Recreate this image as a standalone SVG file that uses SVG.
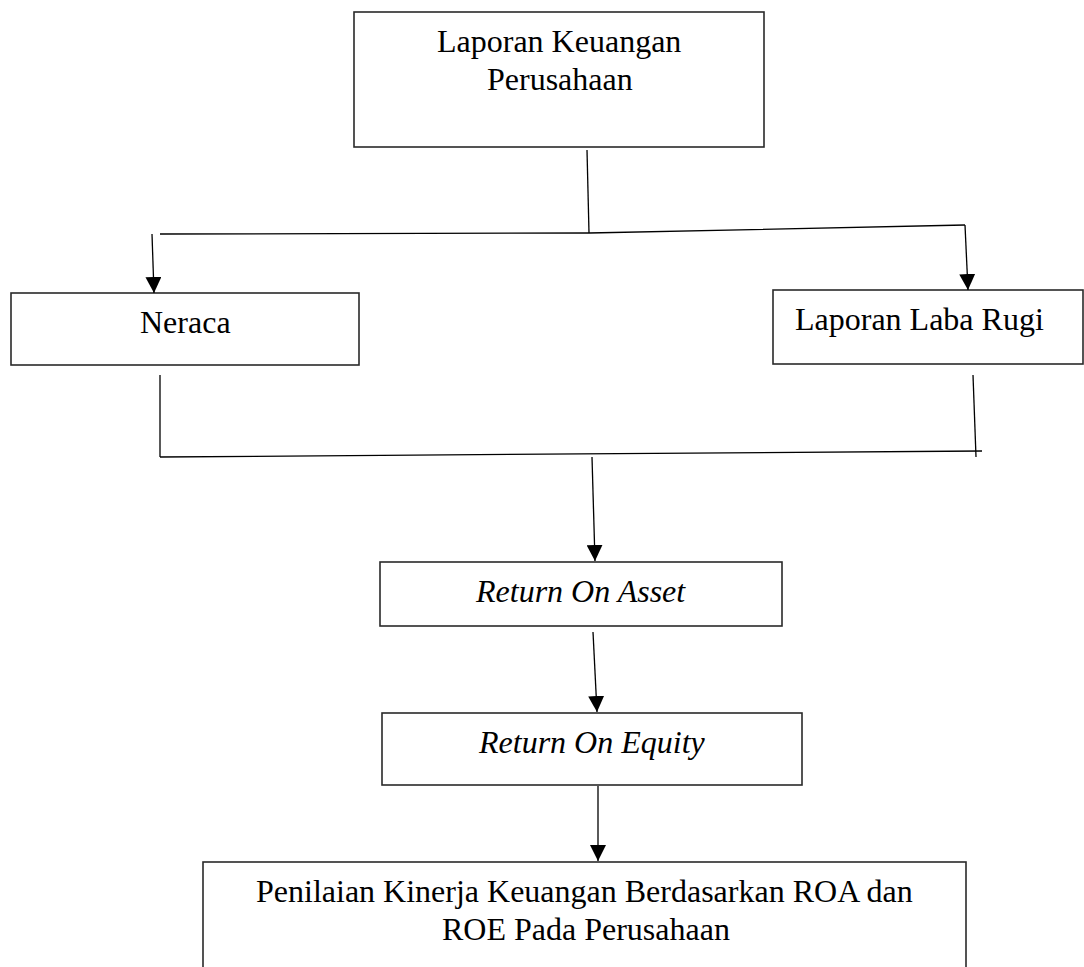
<svg xmlns="http://www.w3.org/2000/svg" width="1084" height="967" viewBox="0 0 1084 967">
<style>
.box{fill:#fff;stroke:#2a2a2a;stroke-width:1.6}
.t{font-family:"Liberation Serif","Times New Roman",serif;font-size:32px;fill:#000}
.i{font-style:italic}
.c{fill:none;stroke:#000;stroke-width:1.3}
</style>
<defs>
<marker id="ah" viewBox="0 0 16 16" refX="16" refY="8" markerWidth="16" markerHeight="16" markerUnits="userSpaceOnUse" orient="auto">
<path d="M0,0 L16,8 L0,16 z" fill="#000"/>
</marker>
</defs>
<rect width="1084" height="967" fill="#fff"/>
<g id="node-laporan-keuangan">
<rect class="box" x="354" y="12" width="410" height="135"/>
<text class="t" x="437" y="52">Laporan Keuangan</text>
<text class="t" x="487" y="90">Perusahaan</text>
</g>
<g id="node-neraca">
<rect class="box" x="11" y="293" width="348" height="72"/>
<text class="t" x="140" y="333">Neraca</text>
</g>
<g id="node-laba-rugi">
<rect class="box" x="773" y="290" width="310" height="74"/>
<text class="t" x="795" y="330">Laporan Laba Rugi</text>
</g>
<g id="node-roa">
<rect class="box" x="380" y="562" width="402" height="64"/>
<text class="t i" x="476" y="602">Return On Asset</text>
</g>
<g id="node-roe">
<rect class="box" x="382" y="713" width="420" height="72"/>
<text class="t i" x="479" y="753">Return On Equity</text>
</g>
<g id="node-penilaian">
<rect class="box" x="203" y="862" width="763" height="120"/>
<text class="t" x="256" y="902">Penilaian Kinerja Keuangan Berdasarkan ROA dan</text>
<text class="t" x="442" y="940">ROE Pada Perusahaan</text>
</g>
<g id="connectors">
<line class="c" x1="587" y1="150" x2="589" y2="233"/>
<polyline class="c" points="160,234 589,233 965,225"/>
<line class="c" x1="152" y1="234" x2="154" y2="293" marker-end="url(#ah)"/>
<line class="c" x1="965" y1="225" x2="968" y2="290" marker-end="url(#ah)"/>
<line class="c" x1="160" y1="375" x2="160" y2="457"/>
<line class="c" x1="160" y1="457" x2="982" y2="451"/>
<line class="c" x1="973" y1="375" x2="976" y2="457"/>
<line class="c" x1="592" y1="457" x2="595" y2="561" marker-end="url(#ah)"/>
<line class="c" x1="593" y1="632" x2="597" y2="712" marker-end="url(#ah)"/>
<line class="c" x1="598" y1="786" x2="598" y2="861" marker-end="url(#ah)"/>
</g>
</svg>
